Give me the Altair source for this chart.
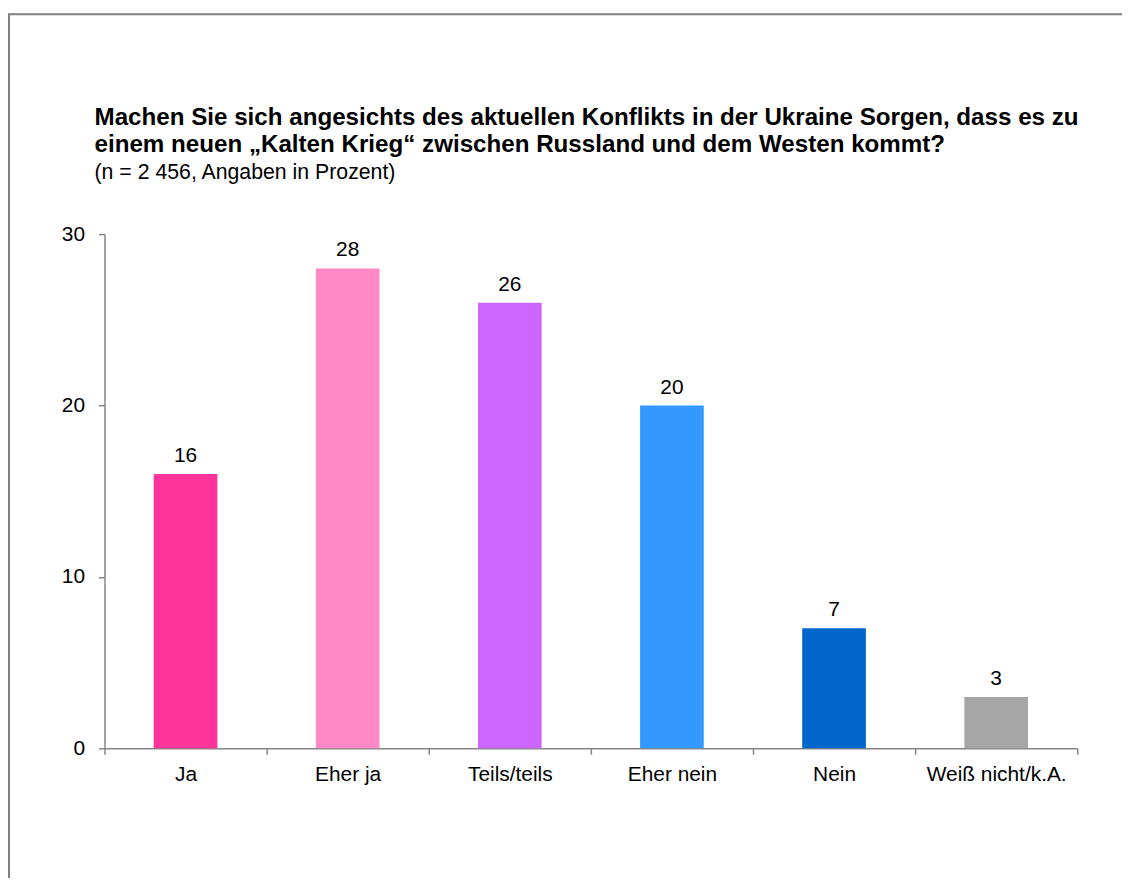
import altair as alt
import pandas as pd

categories = ["Ja", "Eher ja", "Teils/teils", "Eher nein", "Nein", "Weiß nicht/k.A."]
values = [16, 28, 26, 20, 7, 3]
colors = ["#FF3399", "#FF88C6", "#CC66FF", "#3399FF", "#0066CC", "#A6A6A6"]
y_ticks = [0, 10, 20, 30]

title_line1 = "Machen Sie sich angesichts des aktuellen Konflikts in der Ukraine Sorgen, dass es zu"
title_line2 = "einem neuen „Kalten Krieg“ zwischen Russland und dem Westen kommt?"
subtitle = "(n = 2 456, Angaben in Prozent)"

FONT = "Liberation Sans"

df = pd.DataFrame({"cat": categories, "val": values, "col": colors})
one = pd.DataFrame({"f": [0]})

x_enc = alt.X(
    "cat:N",
    sort=categories,
    title=None,
    scale=alt.Scale(paddingInner=0, paddingOuter=0),
    axis=alt.Axis(
        labelAngle=0,
        labelFontSize=21,
        labelFont=FONT,
        labelColor="#000000",
        labelPadding=9,
        tickBand="extent",
        tickSize=6,
        tickColor="#868686",
        tickWidth=1.5,
        domainColor="#868686",
        domainWidth=1.5,
        grid=False,
    ),
)
y_enc = alt.Y(
    "val:Q",
    title=None,
    scale=alt.Scale(domain=[0, 30], nice=False),
    axis=alt.Axis(
        values=y_ticks,
        labelFontSize=21,
        labelFont=FONT,
        labelColor="#000000",
        labelPadding=14,
        tickSize=6,
        tickColor="#868686",
        tickWidth=1.5,
        domainColor="#868686",
        domainWidth=1.5,
        grid=False,
    ),
)

bars = alt.Chart(df).mark_bar(size=64).encode(
    x=x_enc,
    y=y_enc,
    color=alt.Color("col:N", scale=None, legend=None),
)

labels = alt.Chart(df).mark_text(
    baseline="alphabetic", dy=-12, fontSize=21, font=FONT, color="#000000"
).encode(
    x=alt.X("cat:N", sort=categories),
    y=alt.Y("val:Q"),
    text=alt.Text("val:Q"),
)

frame = alt.Chart(one).mark_rect(
    fill=None, stroke="#808080", strokeWidth=2, clip=False
).encode(
    x=alt.value(-96),
    x2=alt.value(1100),
    y=alt.value(-221),
    y2=alt.value(720),
)


def title_text(txt, y, size, weight):
    return alt.Chart(one).mark_text(
        align="left",
        baseline="alphabetic",
        font=FONT,
        fontSize=size,
        fontWeight=weight,
        color="#000000",
        clip=False,
    ).encode(
        x=alt.value(-10),
        y=alt.value(y),
        text=alt.value(txt),
    )


t1 = title_text(title_line1, -110, 24.3, "bold")
t2 = title_text(title_line2, -83, 24.3, "bold")
t3 = title_text(subtitle, -55, 21.4, "normal")

chart = (
    alt.layer(frame, bars, labels, t1, t2, t3)
    .properties(
        width=978,
        height=517,
        background="#FFFFFF",
        autosize=alt.AutoSizeParams(type="none"),
        padding={"left": 97, "top": 225, "right": 45, "bottom": 128},
    )
    .configure_view(stroke=None)
)

chart.save("out.html", embed_options={"renderer": "svg", "actions": False})
